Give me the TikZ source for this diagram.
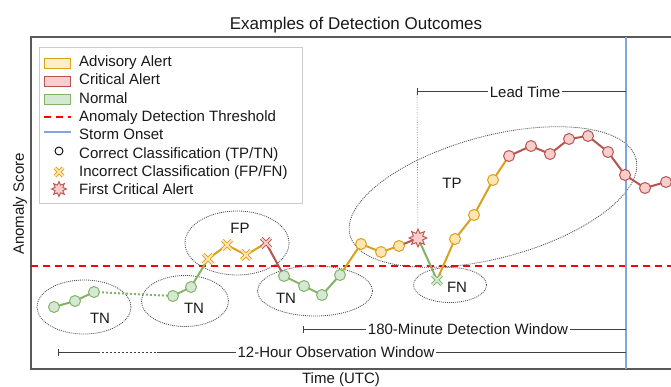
\documentclass[tikz,border=0pt]{standalone}
\usepackage{fontspec}
\setmainfont{Liberation Sans}
\usepackage{tikz}
\usetikzlibrary{arrows.meta,positioning,shapes.geometric,shapes.misc,calc}
\definecolor{advfill}{HTML}{FFE5B4}
\definecolor{advline}{HTML}{D9A21B}
\definecolor{critfill}{HTML}{F8CECC}
\definecolor{critline}{HTML}{B85450}
\definecolor{normfill}{HTML}{D5E8D4}
\definecolor{normline}{HTML}{82B366}
\definecolor{onsetblue}{HTML}{7EA6E0}

\begin{document}
\begin{tikzpicture}[
  x=1pt, y=-1pt,
  txt/.style={font=\fontsize{15}{18}\selectfont, text=black!90, inner sep=0pt},
  legtxt/.style={txt, anchor=base west},
  spanlbl/.style={txt, inner sep=1.5pt},
  axisline/.style={draw=black!65, line width=1.4pt},
  legbox/.style={rectangle, draw=black!20, fill=white, line width=1pt, minimum width=263pt, minimum height=156pt, anchor=north west},
  swatch/.style={rectangle, minimum width=26pt, minimum height=10pt, inner sep=0pt, line width=1pt},
  thresh/.style={draw=red, line width=1.8pt, dash pattern=on 7pt off 5pt},
  onset/.style={draw=onsetblue, line width=1.3pt},
  grp/.style={ellipse, draw=black!70, line width=0.8pt, dash pattern=on 1pt off 1pt, inner sep=0pt},
  normseg/.style={draw=normline, line width=2pt, line join=round},
  advseg/.style={draw=advline, line width=2pt, line join=round},
  critseg/.style={draw=critline, line width=2pt, line join=round},
  mk/.style={circle, minimum size=11pt, inner sep=0pt, line width=1pt},
  normmk/.style={mk, draw=normline, fill=normfill},
  advmk/.style={mk, draw=advline, fill=advfill},
  critmk/.style={mk, draw=critline, fill=critfill},
  miss/.style={cross out, minimum size=8.5pt, inner sep=0pt, line width=0.9pt, double distance=2pt},
  firstalert/.style={star, star points=8, star point ratio=1.8, minimum size=18pt, inner sep=0pt, draw=critline, fill=critfill, line width=0.9pt},
  spanline/.style={draw=black!75, line width=1pt},
  guide/.style={draw=black!50, line width=0.6pt, dash pattern=on 1pt off 1.5pt}
]
\useasboundingbox (0,0) rectangle (671,387);

% title and axes
\node[font=\fontsize{17}{20}\selectfont, text=black!90, inner sep=0pt, anchor=base] (title) at (356,30) {Examples of Detection Outcomes};
\draw[axisline] (671,37) -- (31,37) -- (31,369) -- (671,369);
\node[txt, rotate=90] (ylab) at (20,204) {Anomaly Score};
\node[txt] (xlab) at (341,380) {Time (UTC)};

% outcome groups
\node[grp, minimum width=94pt, minimum height=54pt] (tn-a) at (84,307) {};
\node[grp, minimum width=87pt, minimum height=51pt] (tn-b) at (185,301) {};
\node[grp, minimum width=104pt, minimum height=64pt] (fp) at (237,243) {};
\node[grp, minimum width=115pt, minimum height=50pt] (tn-c) at (315,291) {};
\node[grp, minimum width=73pt, minimum height=35pt] (fn) at (450,285) {};
\node[grp, minimum width=296pt, minimum height=122pt, rotate=15] (tp) at (493,197) {};

% threshold and storm onset
\coordinate (thr-l) at (31,266);
\coordinate (thr-r) at (671,266);
\draw[thresh] (thr-l) -- (thr-r);
\coordinate (onset-top) at (626,37);
\coordinate (onset-bot) at (626,369);
\draw[onset] (onset-top) -- (onset-bot);

% time spans
\coordinate (lead-l) at (417,92);
\coordinate (lead-r) at (626,92);
\node[spanlbl] (lead-lbl) at (525,92) {Lead Time};
\draw[spanline, {Bar[width=7pt]}-] (lead-l) -- (lead-lbl);
\draw[spanline] (lead-lbl) -- (lead-r);

\coordinate (win-l) at (303,329);
\coordinate (win-r) at (626,329);
\node[spanlbl] (win-lbl) at (468,329) {180-Minute Detection Window};
\draw[spanline, {Bar[width=7pt]}-] (win-l) -- (win-lbl);
\draw[spanline] (win-lbl) -- (win-r);

\coordinate (obs-l) at (58,352);
\coordinate (obs-a) at (98,352);
\coordinate (obs-b) at (157,352);
\coordinate (obs-r) at (626,352);
\node[spanlbl] (obs-lbl) at (336,352) {12-Hour Observation Window};
\draw[spanline, {Bar[width=7pt]}-] (obs-l) -- (obs-a);
\draw[spanline, dash pattern=on 2pt off 2pt] (obs-a) -- (obs-b);
\draw[spanline] (obs-b) -- (obs-lbl);
\draw[spanline] (obs-lbl) -- (obs-r);

% legend
\node[legbox] (legend) at (39,47) {};
\node[swatch, draw=advline, fill=advfill!70!white] (sw-adv) at (57.5,64) {};
\node[swatch, draw=critline, fill=critfill] (sw-crit) at (57.5,82) {};
\node[swatch, draw=normline, fill=normfill] (sw-norm) at (57.5,100) {};
\draw[thresh] (44,117) -- (71,117);
\draw[onset] (44,132) -- (71,132);
\node[circle, draw=black, fill=white, minimum size=8pt, inner sep=0pt, line width=0.9pt] (lg-ok) at (59,151) {};
\node[miss, minimum size=7.5pt, draw=advline, double=advfill] (lg-miss) at (59,172) {};
\node[firstalert, minimum size=15pt] (lg-first) at (59,189) {};
\node[legtxt] (lt-adv) at (79,66.7) {Advisory Alert};
\node[legtxt] (lt-crit) at (79,85) {Critical Alert};
\node[legtxt] (lt-norm) at (79,103.3) {Normal};
\node[legtxt] (lt-thr) at (79,121.7) {Anomaly Detection Threshold};
\node[legtxt] (lt-onset) at (79,140) {Storm Onset};
\node[legtxt] (lt-ok) at (79,158.3) {Correct Classification (TP/TN)};
\node[legtxt] (lt-miss) at (79,176.7) {Incorrect Classification (FP/FN)};
\node[legtxt] (lt-first) at (79,195) {First Critical Alert};

% anomaly score series
\foreach \n/\px/\py in {
  a1/54/307, a2/75/301, a3/94/292, b1/173/296, b2/191/287,
  f1/208/259, f2/227/245, f3/246/255, f4/266/243,
  c1/284/276, c2/304/286, c3/322/295, c4/340/275,
  p1/361/244, p2/381/252, p3/399/246, s1/418/238, n1/437/280,
  t1/455/239, t2/474/215, t3/493/180,
  r1/509/156, r2/531/146, r3/550/154, r4/569/139, r5/588/136,
  r6/608/152, r7/625/175, r8/645/188, r9/666/182}
  \coordinate (\n) at (\px,\py);

\draw[normseg] (a1) -- (a2) -- (a3);
\draw[normseg, dash pattern=on 2pt off 2pt] (a3) -- (b1);
\draw[normseg] (b1) -- (b2) -- (f1);
\draw[advseg] (f1) -- (f2) -- (f3) -- (f4);
\draw[critseg] (f4) -- (c1);
\draw[normseg] (c1) -- (c2) -- (c3) -- (c4);
\draw[advseg] (c4) -- (p1) -- (p2) -- (p3);
\draw[critseg] (p3) -- (s1);
\draw[normseg] (s1) -- (n1);
\draw[advseg] (n1) -- (t1) -- (t2) -- (t3) -- (r1);
\draw[critseg] (r1) -- (r2) -- (r3) -- (r4) -- (r5) -- (r6) -- (r7) -- (r8) -- (r9);

\foreach \n in {a1,a2,a3,b1,b2,c1,c2,c3,c4}
  \node[normmk] (\n-m) at (\n) {};
\foreach \n in {p1,p2,p3,t1,t2,t3}
  \node[advmk] (\n-m) at (\n) {};
\foreach \n in {r1,r2,r3,r4,r5,r6,r7,r8,r9}
  \node[critmk] (\n-m) at (\n) {};
\foreach \n in {f1,f2,f3}
  \node[miss, draw=advline, double=advfill] (\n-m) at (\n) {};
\node[miss, draw=critline, double=critfill] (f4-m) at (f4) {};
\node[miss, draw=normline, double=normfill] (n1-m) at (n1) {};
\node[firstalert] (s1-m) at (s1) {};
\draw[guide] (lead-l) -- (s1-m);

% group labels
\node[txt] (tn-a-lbl) at (100,318) {TN};
\node[txt] (tn-b-lbl) at (194,308) {TN};
\node[txt] (fp-lbl) at (240,228) {FP};
\node[txt] (tn-c-lbl) at (286,298) {TN};
\node[txt] (tp-lbl) at (452,183) {TP};
\node[txt] (fn-lbl) at (457,287) {FN};
\end{tikzpicture}
\end{document}
